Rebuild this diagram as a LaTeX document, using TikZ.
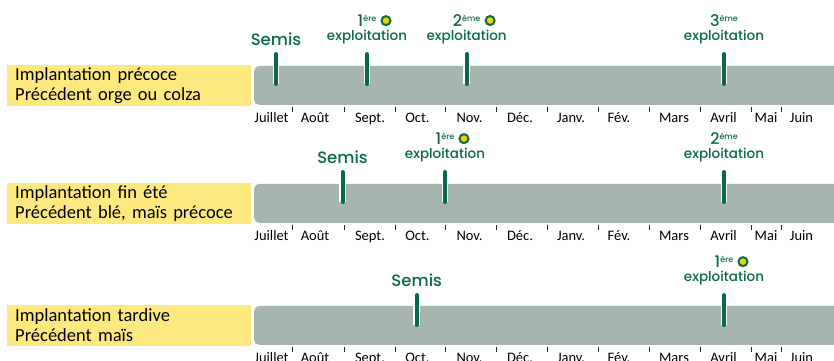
\documentclass[tikz,border=0pt]{standalone}
\usepackage{fontspec}
\setmainfont{Carlito}
\newfontfamily\stagefont{Poppins}[UprightFont={* Medium}]
\usetikzlibrary{positioning}
\definecolor{bargrey}{HTML}{A6B5AD}
\definecolor{rowyellow}{HTML}{FEE980}
\definecolor{stagegreen}{HTML}{0A6850}
\definecolor{dotyellow}{HTML}{F0D200}
\newcommand{\ord}[2]{#1{\fontsize{8}{8}\selectfont\raisebox{0.62em}{#2}}}

\begin{document}
\begin{tikzpicture}[x=1pt,y=1pt,
    rowbox/.style={fill=rowyellow, anchor=south west, minimum height=41pt,
      text width=228pt, inner xsep=8pt, inner ysep=0pt, align=left,
      font=\fontsize{18.5}{20}\selectfont},
    timebar/.style={fill=bargrey, anchor=south west, rounded corners=5pt,
      minimum width=620pt, minimum height=39pt, inner sep=0pt},
    marker/.style={stagegreen, line width=4pt, line cap=round,
      preaction={draw=white, line width=6.5pt}},
    monthtick/.style={draw=black!85, line width=0.9pt},
    month/.style={anchor=base, inner sep=0pt, font=\fontsize{14.5}{16}\selectfont},
    semis/.style={text=stagegreen, inner sep=0pt, font=\stagefont\fontsize{16.5}{18}\selectfont},
    expl/.style={text=stagegreen, inner sep=0pt, font=\stagefont\fontsize{13.5}{15}\selectfont},
    num/.style={text=stagegreen, inner sep=0pt, font=\stagefont\fontsize{16}{18}\selectfont},
    dot/.style={circle, draw=stagegreen, fill=dotyellow, line width=2pt,
      minimum size=9pt, inner sep=0pt}]
  \useasboundingbox (0,0) rectangle (834,360);
  \clip (0,0) rectangle (834,360);

  % rows: labels and bars
  \node[rowbox] (row1) at (7,254) {Implantation précoce\\Précédent orge ou colza};
  \node[rowbox] (row2) at (7,136) {Implantation fin été\\Précédent blé, maïs précoce};
  \node[rowbox] (row3) at (7,14) {Implantation tardive\\Précédent maïs};
  \node[timebar] (bar1) at (254,255) {};
  \node[timebar] (bar2) at (254,137) {};
  \node[timebar] (bar3) at (254,15) {};

  % months under each bar
  \foreach \b [count=\r] in {255,137,15} {
    \foreach \x in {292.7,344,395,445,496.7,547,598,649,700,751,781}
      \draw[monthtick] (\x,\b-2) -- (\x,\b-7);
    \foreach \m/\x [count=\i] in {Juillet/271.5,Août/315,Sept./370,Oct./417.5,
        Nov./469.5,Déc./520,Janv./571,Fév./619,Mars/674,Avril/723.5,Mai/766,Juin/801.5}
      \node[month] (m\r-\i) at (\x,\b-17) {\m};
  }

  % row 1
  \coordinate (s1) at (276,306);
  \coordinate (a1) at (367,306);
  \coordinate (b1) at (466.7,306);
  \coordinate (c1) at (724,306);
  \foreach \p in {s1,a1,b1,c1}
    \draw[marker] (\p) -- ++(0,-30);
  \node[semis, above=8pt of s1] (semis1) {Semis};
  \node[expl, above=10pt of a1] (expla1) {exploitation};
  \node[num, above=3pt of expla1] (numa1) {\ord{1}{ère}};
  \node[dot, right=4pt of numa1] (dota1) {};
  \node[expl, above=10pt of b1] (explb1) {exploitation};
  \node[num, above=3pt of explb1] (numb1) {\ord{2}{ème}};
  \node[dot, right=4pt of numb1] (dotb1) {};
  \node[expl, above=10pt of c1] (explc1) {exploitation};
  \node[num, above=3pt of explc1] (numc1) {\ord{3}{ème}};

  % row 2
  \coordinate (s2) at (342.5,188);
  \coordinate (a2) at (445,188);
  \coordinate (b2) at (724,188);
  \foreach \p in {s2,a2,b2}
    \draw[marker] (\p) -- ++(0,-30);
  \node[semis, above=8pt of s2] (semis2) {Semis};
  \node[expl, above=10pt of a2] (expla2) {exploitation};
  \node[num, above=3pt of expla2] (numa2) {\ord{1}{ère}};
  \node[dot, right=4pt of numa2] (dota2) {};
  \node[expl, above=10pt of b2] (explb2) {exploitation};
  \node[num, above=3pt of explb2] (numb2) {\ord{2}{ème}};

  % row 3
  \coordinate (s3) at (416.7,65);
  \coordinate (a3) at (724,65);
  \foreach \p in {s3,a3}
    \draw[marker] (\p) -- ++(0,-30);
  \node[semis, above=8pt of s3] (semis3) {Semis};
  \node[expl, above=10pt of a3] (expla3) {exploitation};
  \node[num, above=3pt of expla3] (numa3) {\ord{1}{ère}};
  \node[dot, right=4pt of numa3] (dota3) {};
\end{tikzpicture}
\end{document}
